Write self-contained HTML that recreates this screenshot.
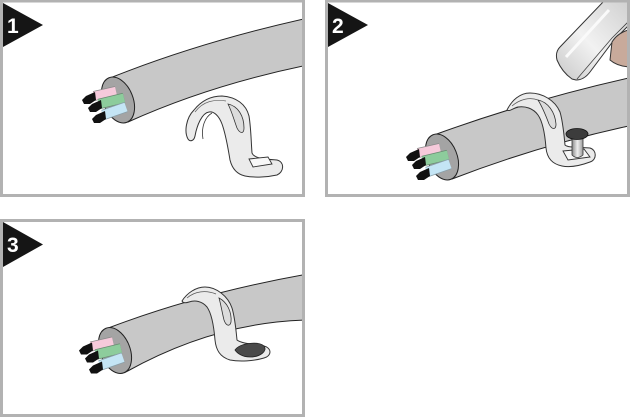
<!DOCTYPE html>
<html><head><meta charset="utf-8"><style>
html,body{margin:0;padding:0;background:#fff;}
svg{display:block;}
.num{font-family:"Liberation Sans",sans-serif;font-weight:bold;fill:#fff;font-size:21px;}
</style></head><body>
<svg width="630" height="417" viewBox="0 0 630 417" xmlns="http://www.w3.org/2000/svg">
<defs>
<clipPath id="c1"><rect x="2" y="2" width="301" height="193"/></clipPath>
<clipPath id="c2"><rect x="327" y="2" width="301" height="193"/></clipPath>
<clipPath id="c3"><rect x="2" y="221" width="301" height="194"/></clipPath>
<linearGradient id="shaft" x1="0" x2="1" y1="0" y2="0">
<stop offset="0" stop-color="#8a8a8a"/><stop offset="0.5" stop-color="#eeeeee"/><stop offset="1" stop-color="#9a9a9a"/>
</linearGradient>
<linearGradient id="ham" x1="0" y1="1" x2="1" y2="0">
<stop offset="0" stop-color="#c8c8c8"/><stop offset="0.45" stop-color="#f2f2f2"/><stop offset="1" stop-color="#cfcfcf"/>
</linearGradient>
<g id="end">
<ellipse cx="118" cy="100" rx="15" ry="24" transform="rotate(-22 118 100)" fill="#a4a4a4" stroke="#222" stroke-width="1"/>
<path d="M94,96 L116,91" stroke="#8a8a8a" stroke-width="10" fill="none"/>
<path d="M94,96 L116,91" stroke="#f6cadb" stroke-width="8.5" fill="none"/>
<path d="M99,104 L124,98" stroke="#6a8a72" stroke-width="10.5" fill="none"/>
<path d="M99,104 L124,98" stroke="#8dcc9c" stroke-width="9" fill="none"/>
<path d="M103,115 L126,107" stroke="#8aa0aa" stroke-width="10.5" fill="none"/>
<path d="M103,115 L126,107" stroke="#c4e5f5" stroke-width="9" fill="none"/>
<path d="M95,92 L86,96 L82,100 L84,104 L90,104 L96,100 Z" fill="#111"/>
<path d="M101,100 L92,104 L88,108 L90,112 L96,112 L102,108 Z" fill="#111"/>
<path d="M105,111 L96,115 L92,119 L94,123 L100,123 L106,119 Z" fill="#111"/>
</g>
</defs>

<!-- Panel 1 -->
<g clip-path="url(#c1)">
<path d="M110,78 Q200,42 308,18 L308,65 Q210,85 128,122 Z" fill="#c8c8c8" stroke="#222" stroke-width="1"/>
<use href="#end"/>
<path d="M188,139 C184,132 186,118 194,110 C202,100 212,96 222,96 C236,97 246,104 249,116 C251,128 251,140 252,153 C254,158 262,159 277,160 C285,162 284,172 277,175 C268,177 255,178 245,176 C236,174 232,168 230,160 C228,148 226,135 222,124 C219,116 214,111 209,112 C202,113 197,125 195,136 C194,141 190,142 188,139 Z" fill="#ebebeb" stroke="#333" stroke-width="1"/>
<path d="M228,104 C238,106 244,116 244,128 C244,134 240,134 237,128 C234,120 232,112 228,104 Z" fill="#dcdcdc" stroke="#333" stroke-width="0.8"/>
<path d="M203,139 C201,127 205,117 212,113" fill="none" stroke="#333" stroke-width="0.8"/>
<path d="M195,112 C203,101 215,99 226,101" fill="none" stroke="#666" stroke-width="0.7"/>
<path d="M249,159 L268,157 L272,164 L253,167 Z" fill="#f8f8f8" stroke="#333" stroke-width="0.9"/>
</g>
<rect x="1.5" y="1" width="302" height="194.5" fill="none" stroke="#b2b2b2" stroke-width="3"/>
<polygon points="3,3 43,25 3,47" fill="#151515"/>
<text class="num" x="7" y="33">1</text>

<!-- Panel 2 -->
<g clip-path="url(#c2)">
<path d="M434,135 Q530,100 633,77 L633,125 Q540,145 452,179 Z" fill="#c8c8c8" stroke="#222" stroke-width="1"/>
<use href="#end" transform="translate(324,57)"/>
<path d="M507,110 C512,100 520,93 530,93 C542,93 555,100 560,112 C563,122 564,135 565,145 C568,148 580,147 590,148 C597,150 597,160 590,162 C582,165 572,168 562,166 C552,164 547,158 546,148 C545,135 543,122 538,115 C533,108 525,106 518,107 C513,108 510,112 507,110 Z" fill="#ebebeb" stroke="#333" stroke-width="1"/>
<path d="M538,100 C548,102 555,112 556,124 C556,130 552,130 549,124 C546,116 543,108 538,100 Z" fill="#dcdcdc" stroke="#333" stroke-width="0.8"/>
<path d="M512,106 C520,99 530,97 538,100" fill="none" stroke="#555" stroke-width="0.7"/>
<path d="M563,151 L584,149 L590,157 L568,160 Z" fill="#f6f6f6" stroke="#333" stroke-width="0.9"/>
<path d="M572,135 L572,155 Q577,160 583,155 L583,135 Z" fill="url(#shaft)" stroke="#333" stroke-width="0.8"/>
<ellipse cx="577" cy="134" rx="11" ry="5.5" fill="#3c3c3c" stroke="#111" stroke-width="0.8"/>
<path d="M560,47 L604,1 L632,1 L632,22 L614,40 L590,72 Q584,80 576,80 L572,79 Q562,72 557,60 Q555,52 560,47 Z" fill="url(#ham)" stroke="#333" stroke-width="1"/>
<path d="M577,79 L612,38 L632,18" fill="none" stroke="#444" stroke-width="0.8"/>
<path d="M566,57 L609,10" fill="none" stroke="#fafafa" stroke-width="3"/>
<path d="M612,42 Q618,32 632,29 L632,67 Q618,67 610,60 Z" fill="#c8aa9b" stroke="#333" stroke-width="1"/>
</g>
<rect x="326.5" y="1" width="302" height="194.5" fill="none" stroke="#b2b2b2" stroke-width="3"/>
<polygon points="328,3 368,25 328,47" fill="#151515"/>
<text class="num" x="332" y="33">2</text>

<!-- Panel 3 -->
<g clip-path="url(#c3)">
<path d="M107,328.5 Q200,293 308,274 L308,320 Q215,322 125,372.5 Z" fill="#c8c8c8" stroke="#222" stroke-width="1"/>
<use href="#end" transform="translate(-3,250.5)"/>
<path d="M182,301 C187,293 196,287 205,287 C216,287 228,296 232,308 C235,318 236,330 237,340 C242,344 256,344 264,346 C272,348 272,356 264,358 C254,361 240,362 230,360 C220,357 216,350 215,340 C214,328 212,314 207,307 C202,301 195,300 189,302 C186,303 183,303 182,301 Z" fill="#ebebeb" stroke="#333" stroke-width="1"/>
<path d="M219,298 C227,302 232,312 231,322 C230,327 226,326 224,320 C222,312 221,305 219,298 Z" fill="#dcdcdc" stroke="#333" stroke-width="0.8"/>
<path d="M187,298 C195,291 206,290 216,294" fill="none" stroke="#555" stroke-width="0.7"/>
<path d="M235,350 C240,343 258,341 264,346 C268,351 260,357 250,357 C242,357 237,353 235,350 Z" fill="#4a4a4a" stroke="#222" stroke-width="0.8"/>
</g>
<rect x="1.5" y="220.5" width="302" height="195" fill="none" stroke="#b2b2b2" stroke-width="3"/>
<polygon points="3,222 43,244.5 3,267" fill="#151515"/>
<text class="num" x="7" y="252">3</text>
</svg>
</body></html>
